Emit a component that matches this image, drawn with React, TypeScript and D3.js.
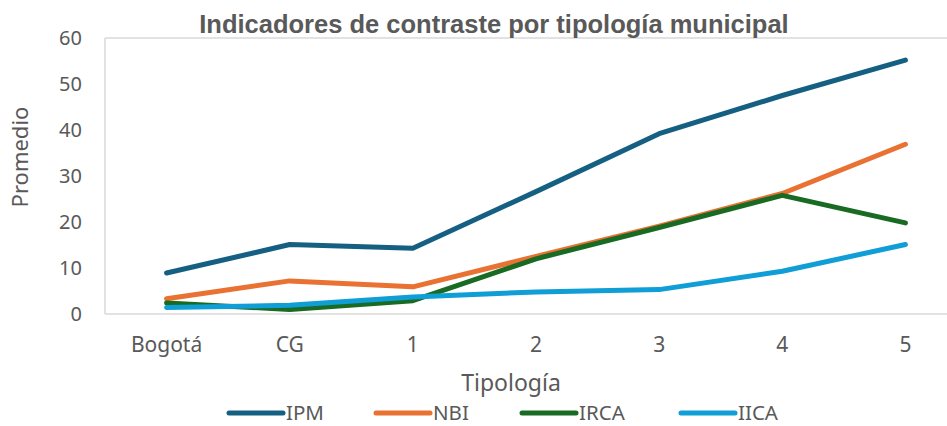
import * as d3 from "d3";
import { useEffect, useRef } from "react";

// ---- data ----
const categories = ["Bogotá", "CG", "1", "2", "3", "4", "5"];
const seriesNames = ["IPM", "NBI", "IRCA", "IICA"];
const ipm = [8.9, 15.1, 14.3, 26.6, 39.2, 47.5, 55.2];
const nbi = [3.3, 7.2, 5.9, 12.5, 19.1, 26.2, 36.9];
const irca = [2.4, 1.0, 2.9, 12.0, 18.8, 25.8, 19.8];
const iica = [1.4, 1.9, 3.7, 4.8, 5.3, 9.3, 15.1];
const yTicks = [0, 10, 20, 30, 40, 50, 60];

const colors = ["#156082", "#E97132", "#196B24", "#0F9ED5"];

export default function App() {
  const ref = useRef<SVGSVGElement | null>(null);

  useEffect(() => {
    const width = 947;
    const height = 426;
    // plot box (right side runs past the picture edge, like the original)
    const plot = { left: 105, top: 38, right: 967, bottom: 314 };
    const font = "'Noto Sans', 'Open Sans', sans-serif";
    const textColor = "#595959";

    const svg = d3.select(ref.current);
    svg.selectAll("*").remove();
    svg.attr("width", width).attr("height", height);

    const x = d3.scaleBand().domain(categories).range([plot.left, plot.right]);
    const y = d3.scaleLinear().domain([0, 60]).range([plot.bottom, plot.top]);

    // ---- plot frame ----
    const frame = svg.append("g").attr("stroke", "#d9d9d9").attr("stroke-width", 1.5);
    frame.append("line").attr("x1", plot.left).attr("x2", plot.left).attr("y1", plot.top).attr("y2", plot.bottom);
    frame.append("line").attr("x1", plot.left).attr("x2", plot.right).attr("y1", plot.top).attr("y2", plot.top);
    frame.append("line").attr("x1", plot.left).attr("x2", plot.right).attr("y1", plot.bottom).attr("y2", plot.bottom);

    // ---- y axis ----
    svg.append("g")
      .selectAll("text")
      .data(yTicks)
      .join("text")
      .attr("x", 82)
      .attr("y", (d) => y(d))
      .attr("dy", "0.36em")
      .attr("text-anchor", "end")
      .attr("font-family", font)
      .attr("font-size", 20)
      .attr("fill", textColor)
      .text((d) => d);

    // ---- x axis ----
    svg.append("g")
      .selectAll("text")
      .data(categories)
      .join("text")
      .attr("x", (d) => x(d)! + x.bandwidth() / 2)
      .attr("y", 352)
      .attr("text-anchor", "middle")
      .attr("font-family", font)
      .attr("font-size", 21)
      .attr("fill", textColor)
      .text((d) => d);

    // ---- axis titles ----
    svg.append("text")
      .attr("transform", "translate(28,157) rotate(-90)")
      .attr("text-anchor", "middle")
      .attr("font-family", font)
      .attr("font-size", 22)
      .attr("fill", textColor)
      .text("Promedio");

    svg.append("text")
      .attr("x", 511)
      .attr("y", 391)
      .attr("text-anchor", "middle")
      .attr("font-family", font)
      .attr("font-size", 23)
      .attr("fill", textColor)
      .text("Tipología");

    // ---- title ----
    svg.append("text")
      .attr("x", 494)
      .attr("y", 33)
      .attr("text-anchor", "middle")
      .attr("font-family", "'Liberation Sans', Arial, sans-serif")
      .attr("font-weight", 700)
      .attr("font-size", 25.5)
      .attr("fill", textColor)
      .text("Indicadores de contraste por tipología municipal");

    // ---- lines ----
    const allSeries = [ipm, nbi, irca, iica];
    const line = d3
      .line<number>()
      .x((_, i) => x(categories[i])! + x.bandwidth() / 2)
      .y((d) => y(d));

    svg.append("g")
      .selectAll("path")
      .data(allSeries)
      .join("path")
      .attr("d", (d) => line(d))
      .attr("fill", "none")
      .attr("stroke", (_, i) => colors[i])
      .attr("stroke-width", 5)
      .attr("stroke-linecap", "round")
      .attr("stroke-linejoin", "round");

    // ---- legend ----
    const legendX = [229, 376, 522, 681];
    const legend = svg.append("g")
      .selectAll("g")
      .data(seriesNames)
      .join("g")
      .attr("transform", (_, i) => `translate(${legendX[i]},413)`);
    legend.append("line")
      .attr("x1", 0)
      .attr("x2", 54)
      .attr("stroke", (_, i) => colors[i])
      .attr("stroke-width", 5)
      .attr("stroke-linecap", "round");
    legend.append("text")
      .attr("x", 57)
      .attr("y", 7)
      .attr("font-family", font)
      .attr("font-size", 20.5)
      .attr("fill", textColor)
      .text((d) => d);
  }, []);

  return <svg ref={ref} style={{ position: "absolute", left: 0, top: 0, display: "block" }} />;
}
